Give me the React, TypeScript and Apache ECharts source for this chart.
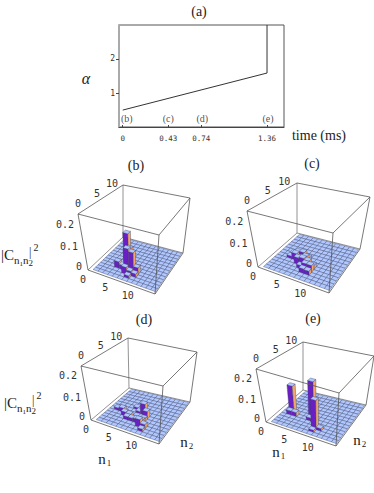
import React, { useEffect, useRef } from "react";
import * as echarts from "echarts";

// ---------- data ----------
const timeTicks = [0, 0.43, 0.74, 1.36];
const timeMarks = ["(b)", "(c)", "(d)", "(e)"];
const alphaTicks = [1, 2];
const rampPath = [[0, 0.51], [1.36, 1.59], [1.36, 2.99]];

const cellCount = 13;
const nTicks = [0, 5, 10];
const nTickSpan = 15;
const zTicks = [0, 0.1, 0.2];

const barsB = [
  [4, 5, 0.14], [3, 3, 0.03], [4, 3, 0.02], [5, 4, 0.09], [5, 3, 0.1], [6, 3, 0.09], [7, 3, 0.03],
  [5, 2, 0.03], [6, 2, 0.02], [6, 1, 0.012], [7, 2, 0.015],
];
const barsC = [
  [2, 6, 0.012], [3, 6, 0.025], [4, 6, 0.03], [3, 5, 0.03], [4, 5, 0.018], [5, 5, 0.03], [4, 4, 0.03], [5, 4, 0.035],
  [6, 4, 0.03], [5, 3, 0.015], [6, 3, 0.03], [7, 3, 0.03], [6, 2, 0.02], [7, 2, 0.018], [7, 4, 0.018], [2, 5, 0.012], [5, 6, 0.012],
];
const barsD = [
  [1, 5, 0.012], [2, 5, 0.018], [3, 4, 0.018], [4, 4, 0.015], [4, 3, 0.015], [5, 3, 0.015], [6, 3, 0.018], [7, 2, 0.035],
  [8, 2, 0.02], [8, 1, 0.012], [4, 7, 0.01], [5, 6, 0.01], [6, 6, 0.05], [7, 5, 0.035], [7, 4, 0.015], [7, 3, 0.02],
];
const barsE = [
  [1, 5, 0.13], [1, 4, 0.02], [2, 4, 0.02], [5, 5, 0.18], [5, 4, 0.015], [7, 2, 0.14], [8, 2, 0.012], [7, 1, 0.01],
];

// ---------- layout ----------
const panels = [
  {
    bars: barsB,
    bottom: [[88, 270], [155, 294], [183, 253], [123, 237]],
    top: [[78, 214], [159, 235], [190, 198], [123, 185]],
  },
  {
    bars: barsC,
    bottom: [[258, 267], [329, 293], [360, 249], [297, 233]],
    top: [[247, 211], [333, 233], [370, 197], [297, 183]],
  },
  {
    bars: barsD,
    bottom: [[91, 420], [159, 444], [190, 402], [129, 388]],
    top: [[81, 366], [163, 386], [197, 352], [128, 338]],
  },
  {
    bars: barsE,
    bottom: [[266, 422], [336, 446], [366, 405], [303, 390]],
    top: [[256, 369], [339, 393], [374, 356], [303, 342]],
  },
];
const Z_MAX = 0.25;
const FLOOR_U = [0.05, 0.985];
const FLOOR_V = [0.05, 0.985];

const SERIF = "'Liberation Serif', serif";
const MONO = "'DejaVu Sans Mono', monospace";
const TOP_FILL = "#b0c8ff";
const LEFT_FILL = "#6a1fc4";
const RIGHT_FILL = "#f4a76a";
const CELL_LINE = "#3a4168";

function project(panel: any, u: number, v: number, w: number) {
  const bilinear = (c: number[][], axis: number) =>
    (1 - u) * (1 - v) * c[0][axis] + u * (1 - v) * c[1][axis] + u * v * c[2][axis] + (1 - u) * v * c[3][axis];
  return [0, 1].map((a) => bilinear(panel.bottom, a) * (1 - w) + bilinear(panel.top, a) * w);
}

function floorPoint(panel: any, a: number, b: number, z: number) {
  const u = FLOOR_U[0] + (FLOOR_U[1] - FLOOR_U[0]) * (a / cellCount);
  const v = FLOOR_V[0] + (FLOOR_V[1] - FLOOR_V[0]) * (b / cellCount);
  return project(panel, u, v, z / Z_MAX);
}

function polygon(points: number[][], fill: string) {
  return {
    type: "polygon",
    shape: { points },
    style: { fill, stroke: CELL_LINE, lineWidth: 0.4 },
  };
}

function cellSeries(panel: any) {
  const data: number[][] = [];
  for (let n1 = 0; n1 < cellCount; n1++) {
    for (let n2 = cellCount - 1; n2 >= 0; n2--) {
      const hit = panel.bars.find((b: number[]) => b[0] === n1 && b[1] === n2);
      data.push([n1, n2, hit ? hit[2] : 0]);
    }
  }
  return {
    type: "custom",
    xAxisIndex: 1,
    yAxisIndex: 1,
    coordinateSystem: "cartesian2d",
    silent: true,
    clip: false,
    z: 3,
    encode: { x: 0, y: 1 },
    data,
    renderItem: (_p: any, api: any) => {
      const n1 = api.value(0);
      const n2 = api.value(1);
      const z = api.value(2);
      const pt = (a: number, b: number, h: number) => api.coord(floorPoint(panel, a, b, h));
      const children: any[] = [];
      if (z > 0) {
        children.push(polygon([pt(n1, n2, 0), pt(n1 + 1, n2, 0), pt(n1 + 1, n2, z), pt(n1, n2, z)], LEFT_FILL));
        children.push(polygon([pt(n1 + 1, n2, 0), pt(n1 + 1, n2 + 1, 0), pt(n1 + 1, n2 + 1, z), pt(n1 + 1, n2, z)], RIGHT_FILL));
      }
      children.push(polygon([pt(n1, n2, z), pt(n1 + 1, n2, z), pt(n1 + 1, n2 + 1, z), pt(n1, n2 + 1, z)], TOP_FILL));
      return { type: "group", children };
    },
  };
}

// edges of the box: corner index a, level a, corner index b, level b
const backEdges = [[3, 0, 3, 1], [0, 0, 3, 0], [3, 0, 2, 0]];
const frontEdges = [[0, 0, 0, 1], [0, 1, 1, 1], [1, 1, 2, 1], [2, 1, 3, 1], [3, 1, 0, 1], [1, 0, 1, 1], [2, 0, 2, 1], [0, 0, 1, 0], [1, 0, 2, 0]];

function edgeSeries(panel: any, edges: number[][], z: number, stroke: string) {
  return {
    type: "custom",
    xAxisIndex: 1,
    yAxisIndex: 1,
    coordinateSystem: "cartesian2d",
    silent: true,
    clip: false,
    z,
    encode: { x: 0, y: 1 },
    data: edges,
    renderItem: (_p: any, api: any) => {
      const c = (i: number, l: number) => api.coord((l ? panel.top : panel.bottom)[i]);
      const a = c(api.value(0), api.value(1));
      const b = c(api.value(2), api.value(3));
      return { type: "line", shape: { x1: a[0], y1: a[1], x2: b[0], y2: b[1] }, style: { stroke, lineWidth: 0.8 } };
    },
  };
}

function text(x: number, y: number, value: string, font: any = {}) {
  return {
    type: "text",
    x,
    y,
    silent: true,
    style: {
      text: value,
      fontFamily: SERIF,
      fontSize: 14,
      fill: "#222",
      align: "center",
      verticalAlign: "middle",
      ...font,
    },
  };
}

function panelLabels(panel: any) {
  const out: any[] = [];
  const mono = { fontFamily: MONO, fontSize: 10, fill: "#333" };
  nTicks.forEach((n) => {
    const a = project(panel, n / nTickSpan, 0, 0);
    out.push(text(a[0] - 5, a[1] + 9, String(n), mono));
    const b = project(panel, 0, n / nTickSpan, 1);
    out.push(text(b[0] + (n ? 4 : 0), b[1] - 11, String(n), mono));
  });
  zTicks.forEach((z) => {
    const a = project(panel, 0, 0, z / Z_MAX);
    out.push(text(a[0] - 6, a[1] + (z ? -1 : -4), z ? z.toFixed(1) : "0", { ...mono, align: "right" }));
  });
  return out;
}

function coefficientLabel(dx: number, dy: number) {
  return [
    text(1 + dx, 255 + dy, "|C", { align: "left", fontSize: 15 }),
    text(14 + dx, 260 + dy, "n", { align: "left", fontSize: 11 }),
    text(19.5 + dx, 264 + dy, "1", { align: "left", fontSize: 7 }),
    text(23 + dx, 260 + dy, "n", { align: "left", fontSize: 11 }),
    text(28.5 + dx, 263 + dy, "2", { align: "left", fontSize: 9 }),
    text(29 + dx, 252 + dy, "|", { align: "left", fontSize: 12 }),
    text(33.5 + dx, 247 + dy, "2", { align: "left", fontSize: 10 }),
  ];
}

function subscriptLabel(x: number, y: number, sub: string) {
  return [text(x, y, "n", { fontSize: 15 }), text(x + 7, y + 4, sub, { fontSize: 9 })];
}

export default function App() {
  const ref = useRef<HTMLDivElement>(null);
  useEffect(() => {
    document.body.style.margin = "0";
    const chart = echarts.init(ref.current!, undefined, { renderer: "svg" });
    const series: any[] = [
      {
        type: "line",
        data: rampPath,
        showSymbol: false,
        symbol: "none",
        lineStyle: { color: "#333", width: 1 },
        silent: true,
        z: 3,
      },
      {
        type: "scatter",
        symbolSize: 0,
        silent: true,
        data: timeTicks.map((t, i) => ({
          value: [t, 0.26],
          label: {
            show: true,
            formatter: timeMarks[i],
            position: "inside",
            offset: [i === 0 ? 4 : i === 3 ? 1 : i === 2 ? 1 : 0, 0],
            fontFamily: SERIF,
            fontSize: 10,
            color: "#222",
          },
        })),
      },
    ];
    panels.forEach((panel) => {
      series.push(edgeSeries(panel, backEdges, 2, "#777"));
      series.push(cellSeries(panel));
      series.push(edgeSeries(panel, frontEdges, 4, "#555"));
    });
    chart.setOption({
      animation: false,
      backgroundColor: "#fff",
      grid: [
        { left: 119, top: 25, width: 165, height: 102, show: true, borderColor: "#555", borderWidth: 1, containLabel: false },
        { left: 0, top: 0, width: 374, height: 493, show: false },
      ],
      xAxis: [
        {
          type: "value",
          min: -0.035,
          max: 1.52,
          gridIndex: 0,
          splitLine: { show: false },
          axisLine: { onZero: false, lineStyle: { color: "#444" } },
          axisTick: { customValues: timeTicks, length: 2, inside: true, lineStyle: { color: "#444" } },
          axisLabel: {
            customValues: timeTicks,
            formatter: (v: number) => String(v),
            fontFamily: MONO,
            fontSize: 7.5,
            color: "#333",
            margin: 7,
            hideOverlap: false,
          },
        },
        { type: "value", min: 0, max: 374, gridIndex: 1, show: false },
      ],
      yAxis: [
        {
          type: "value",
          min: 0.017,
          max: 2.99,
          gridIndex: 0,
          splitLine: { show: false },
          axisLine: { onZero: false, lineStyle: { color: "#aaa", width: 2 } },
          axisTick: { customValues: alphaTicks, length: 3, lineStyle: { color: "#444" } },
          axisLabel: {
            customValues: alphaTicks,
            formatter: (v: number) => String(v),
            fontFamily: MONO,
            fontSize: 8,
            color: "#333",
            margin: 4,
          },
        },
        { type: "value", min: 0, max: 493, inverse: true, gridIndex: 1, show: false },
      ],
      series,
      graphic: {
        elements: [
          text(199, 11, "(a)"),
          text(136, 165, "(b)"),
          text(312, 163, "(c)"),
          text(144, 319, "(d)"),
          text(313, 318, "(e)"),
          text(86, 78, "\u03b1", { fontStyle: "italic", fontSize: 16 }),
          text(319, 135, "time (ms)", { fontSize: 14 }),
          ...panels.flatMap(panelLabels),
          ...coefficientLabel(0, 0),
          ...coefficientLabel(3, 148),
          ...subscriptLabel(102, 459, "1"),
          ...subscriptLabel(184, 442, "2"),
          ...subscriptLabel(276, 452, "1"),
          ...subscriptLabel(357, 440, "2"),
        ],
      },
    });
    return () => chart.dispose();
  }, []);
  return <div ref={ref} style={{ width: 374, height: 493 }} />;
}
